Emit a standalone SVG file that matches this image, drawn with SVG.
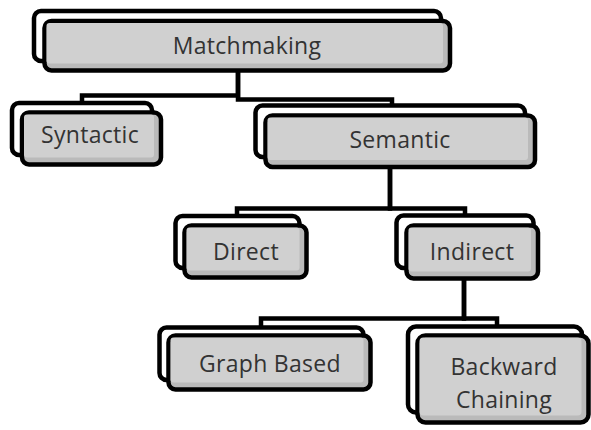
<svg xmlns="http://www.w3.org/2000/svg" width="591" height="430" viewBox="0 0 591 430">
<style>
.back{fill:#ffffff;stroke:#000;stroke-width:4.5}
.front{fill:#bababa;stroke:#000;stroke-width:4.5}
.inner{fill:#d0d0d0}
.conn{fill:none;stroke:#000;stroke-width:4.5;stroke-linejoin:miter}
text{font-family:"Open Sans","DejaVu Sans",sans-serif;font-size:23px;letter-spacing:0.3px;fill:#333333;text-anchor:middle}
</style>
<rect width="591" height="430" fill="#ffffff"/>
<g id="connectors">
<path class="conn" d="M238 72 V95.5 H82 V103"/>
<path class="conn" d="M238 72 V99.5 H392 V106"/>
<path class="conn" d="M390 167 V208.5 H237 V216"/>
<path class="conn" d="M390 167 V208.5 H465 V215"/>
<path class="conn" d="M464 279 V318.5 H261 V327"/>
<path class="conn" d="M464 279 V318.5 H497 V326"/>
</g>
<g id="matchmaking">
<rect class="back" x="34" y="11" width="407" height="50" rx="7"/>
<rect class="front" x="44.5" y="21" width="405.5" height="49.5" rx="7"/>
<rect class="inner" x="46.5" y="23" width="396.5" height="40.5" rx="3"/>
<text x="247" y="54">Matchmaking</text>
</g>
<g id="syntactic">
<rect class="back" x="12" y="103" width="140" height="52" rx="7"/>
<rect class="front" x="22" y="112.5" width="139" height="52" rx="7"/>
<rect class="inner" x="24" y="114.5" width="130" height="43" rx="3"/>
<text x="90" y="143">Syntactic</text>
</g>
<g id="semantic">
<rect class="back" x="255.5" y="105.5" width="269.5" height="51.5" rx="7"/>
<rect class="front" x="265.5" y="115.5" width="269.5" height="51.5" rx="7"/>
<rect class="inner" x="267.5" y="117.5" width="260.5" height="42.5" rx="3"/>
<text x="400" y="148">Semantic</text>
</g>
<g id="direct">
<rect class="back" x="175.5" y="216" width="124" height="52" rx="7"/>
<rect class="front" x="184.5" y="225.5" width="122" height="52" rx="7"/>
<rect class="inner" x="186.5" y="227.5" width="113" height="43" rx="3"/>
<text x="246" y="260">Direct</text>
</g>
<g id="indirect">
<rect class="back" x="396.5" y="215.5" width="137" height="52.5" rx="7"/>
<rect class="front" x="406.5" y="225.5" width="131.5" height="53" rx="7"/>
<rect class="inner" x="408.5" y="227.5" width="122.5" height="44" rx="3"/>
<text x="472" y="260">Indirect</text>
</g>
<g id="graph-based">
<rect class="back" x="159.5" y="327.5" width="204" height="52.5" rx="7"/>
<rect class="front" x="168.5" y="335.5" width="202" height="54" rx="7"/>
<rect class="inner" x="170.5" y="337.5" width="193" height="45" rx="3"/>
<text x="270" y="372">Graph Based</text>
</g>
<g id="backward-chaining">
<rect class="back" x="408" y="326.5" width="174" height="86" rx="8"/>
<rect class="front" x="417.5" y="335.5" width="171" height="87" rx="8"/>
<rect class="inner" x="419.5" y="337.5" width="162" height="78" rx="4"/>
<text x="504" y="375">Backward</text>
<text x="504" y="408">Chaining</text>
</g>
</svg>
